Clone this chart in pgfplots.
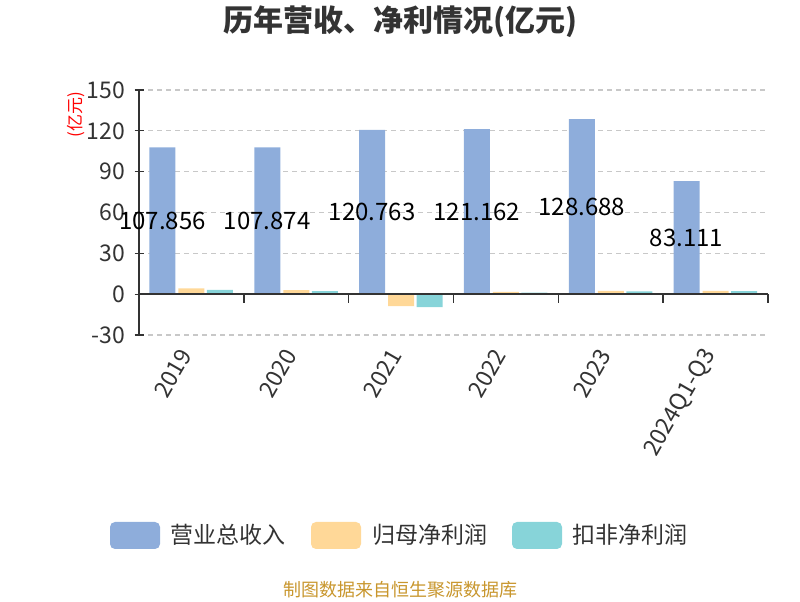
\documentclass[border=0pt]{standalone}
\usepackage{fontspec}
\setmainfont{Noto Sans CJK SC}
\usepackage{pgfplots}
\usepackage{pgfplotstable}
\pgfplotsset{compat=1.18}

\definecolor{revblue}{RGB}{142,173,219}
\definecolor{profor}{RGB}{255,216,152}
\definecolor{nonteal}{RGB}{135,212,217}
\definecolor{txtgray}{RGB}{51,51,51}
\definecolor{gridgray}{RGB}{200,200,200}
\definecolor{srcgold}{RGB}{200,150,45}

% 营业总收入 (亿元)
\pgfplotstableread{
x y
0 107.856
1 107.874
2 120.763
3 121.162
4 128.688
5 83.111
}\revenue

\begin{document}
\begin{tikzpicture}[x=1pt,y=1pt]
\path (0,0) rectangle (800,600);

% title and unit label
\node[font=\fontsize{30}{30}\selectfont\bfseries, text=txtgray] at (400,578) {历年营收、净利情况(亿元)};
\node[rotate=90, font=\fontsize{17}{17}\selectfont, text=red] at (76,485) {(亿元)};

\begin{axis}[
    at={(139pt,265pt)}, anchor=south west,
    scale only axis, width=629pt, height=245pt,
    xmin=-0.5, xmax=5.5, ymin=-30, ymax=150,
    axis lines=left, axis line style={-},
    x axis line style={draw=none},
    y axis line style={txtgray, line width=1.2pt},
    ytick={-30,0,...,150},
    xtick={0,...,5},
    xticklabels={2019,2020,2021,2022,2023,2024Q1-Q3},
    major x tick style={draw=none},
    major y tick style={txtgray, line width=1.2pt},
    major tick length=9pt,
    ymajorgrids,
    grid style={gridgray, dash pattern=on 5pt off 4pt, line width=1.1pt},
    tick label style={font=\fontsize{23}{23}\selectfont, text=txtgray},
    yticklabel style={xshift=-6pt},
    xticklabel style={xshift=-4pt, yshift=-9pt, rotate=60, anchor=east},
    /pgf/number format/assume math mode=true,
    clip=false,
]
% 营业总收入
\addplot[ybar, bar width=26pt, bar shift=-29pt, fill=revblue, draw=none]
    table[x=x, y=y] {\revenue};
% 归母净利润
\addplot[ybar, bar width=26pt, bar shift=0pt, fill=profor, draw=none]
    coordinates {(0,4.2) (1,2.9) (2,-8.8) (3,1.7) (4,2.5) (5,2.5)};
% 扣非净利润
\addplot[ybar, bar width=26pt, bar shift=28.5pt, fill=nonteal, draw=none]
    coordinates {(0,3.2) (1,2.2) (2,-9.6) (3,1.2) (4,2.0) (5,2.2)};
% revenue labels, half way up the blue bars
\addplot[draw=none, mark=none, nodes near coords, point meta=explicit symbolic,
    every node near coord/.append style={anchor=center, text=black, xshift=-29pt,
        font=\fontsize{24}{24}\selectfont}]
    table[x=x, y expr=0.5*\thisrow{y}, meta=y] {\revenue};

% zero line with category boundary ticks
\draw[txtgray, line width=1.5pt] (axis cs:-0.5,0) -- (axis cs:5.5,0);
\pgfplotsinvokeforeach{0.5,1.5,2.5,3.5,4.5,5.5}{
    \draw[txtgray, line width=1.5pt] (axis cs:#1,0) -- ++(0pt,-9pt);
}
\end{axis}

% legend
\fill[revblue, rounded corners=5pt] (110,51) rectangle (160,78);
\node[anchor=west, inner sep=0pt, font=\fontsize{23}{23}\selectfont, text=txtgray] at (170,65) {营业总收入};
\fill[profor, rounded corners=5pt] (311,51) rectangle (361,78);
\node[anchor=west, inner sep=0pt, font=\fontsize{23}{23}\selectfont, text=txtgray] at (372,65) {归母净利润};
\fill[nonteal, rounded corners=5pt] (512,51) rectangle (562,78);
\node[anchor=west, inner sep=0pt, font=\fontsize{23}{23}\selectfont, text=txtgray] at (572,65) {扣非净利润};

% source
\node[font=\fontsize{18}{18}\selectfont, text=srcgold] at (400,10.5) {制图数据来自恒生聚源数据库};
\end{tikzpicture}
\end{document}
